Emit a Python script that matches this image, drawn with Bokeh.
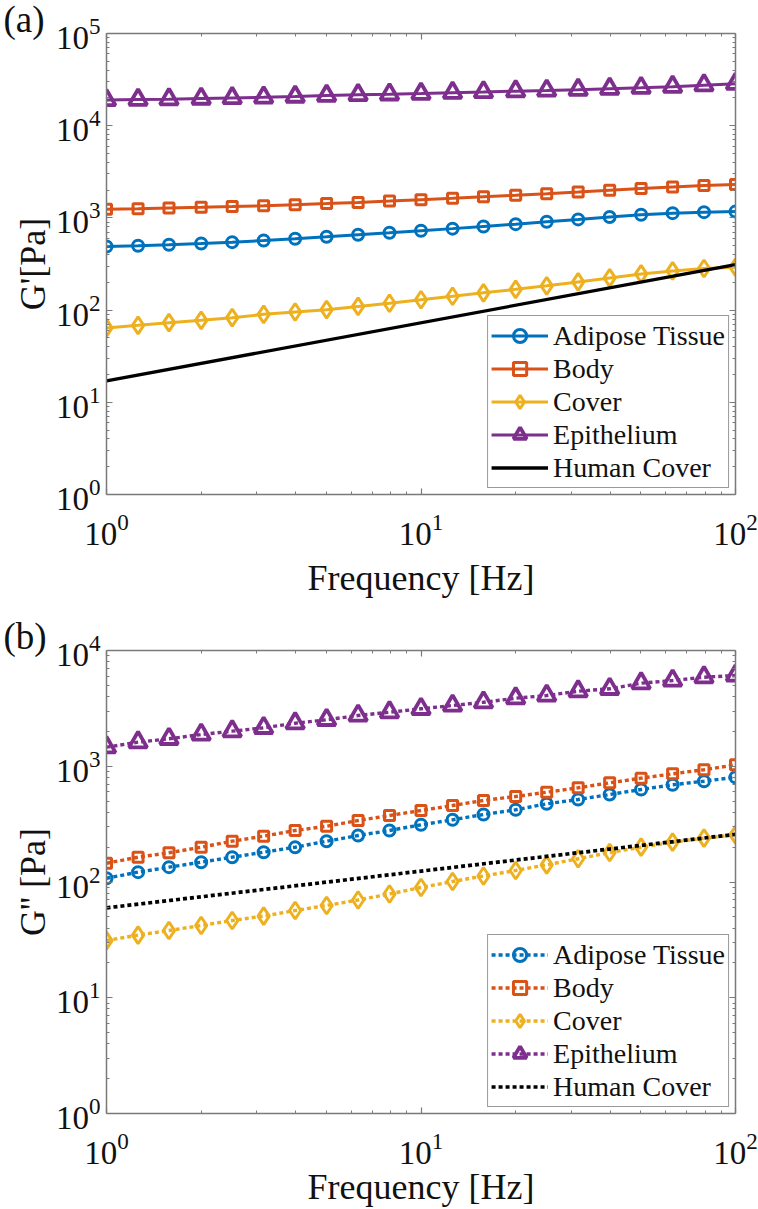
from bokeh.plotting import figure
from bokeh.models import (FixedTicker, LogAxis, Legend, LegendItem, Title,
                          CustomJSTickFormatter)
from bokeh.layouts import column
from bokeh.embed import file_html
from bokeh.resources import INLINE

# ---------------- data ----------------
freq = [1.0, 1.26, 1.58, 2.0, 2.51, 3.16, 3.98, 5.01, 6.31, 7.94, 10.0,
        12.6, 15.8, 20.0, 25.1, 31.6, 39.8, 50.1, 63.1, 79.4, 100.0]

series_names = ["Adipose Tissue", "Body", "Cover", "Epithelium", "Human Cover"]

# storage modulus G' [Pa]
gp_adipose = [490, 499, 512, 527, 546, 569, 595, 624, 656, 689, 726,
              765, 808, 855, 908, 963, 1023, 1080, 1126, 1155, 1170]
gp_body = [1238, 1257, 1279, 1301, 1327, 1357, 1391, 1430, 1473, 1521, 1575,
           1631, 1692, 1756, 1828, 1907, 1994, 2084, 2169, 2246, 2302]
gp_cover = [64.1, 68.4, 73.1, 77.4, 82.8, 89.9, 95.4, 101.0, 109.6, 118.7, 129.5,
            141.2, 154.0, 168.0, 183.2, 202.3, 223.5, 246.7, 265.8, 282.8, 291.3]
gp_epithelium = [19000, 19200, 19400, 19700, 20000, 20300, 20700, 21200, 21600, 21900, 22300,
                 22800, 23200, 23700, 24100, 24600, 25200, 25800, 26500, 27500, 28500]
human_freq = [1.0, 100.0]
gp_human = [17.1, 311.0]

# loss modulus G'' [Pa]
gpp_adipose = [107.8, 121.6, 134.3, 148.3, 163.8, 180.9, 199.8, 225.2, 252.2, 278.6, 312.0,
               344.6, 383.0, 420.6, 473.7, 516.1, 570.0, 629.6, 691.5, 742.8, 804.3]
gpp_body = [145.3, 163.8, 178.8, 199.8, 225.2, 248.7, 278.6, 303.4, 339.9, 375.4, 414.7,
            458.1, 506.0, 548.0, 596.9, 651.4, 719.4, 788.6, 860.6, 931.9, 1029.0]
gpp_cover = [31.2, 34.8, 38.1, 42.1, 46.5, 50.8, 56.7, 62.7, 69.9, 78.8, 89.7,
             101.0, 112.7, 125.7, 140.8, 158.7, 179.8, 199.8, 220.7, 239.0, 255.7]
gpp_epithelium = [1461, 1614, 1727, 1881, 2009, 2149, 2354, 2520, 2745, 2931, 3135,
                  3348, 3574, 3871, 4084, 4450, 4667, 5218, 5506, 5879, 6081]
gpp_human = [59.8, 258.0]

# ---------------- styling ----------------
FONT = "Liberation Serif"
COLORS = ["#0072BD", "#D95319", "#EDB120", "#7E2F8E", "#000000"]
MARKERS = ["circle", "square", "diamond", "triangle"]
MSIZE = [11, 10, 17, 18]
MLW = [3.0, 3.0, 3.0, 3.8]
AXCOL = "#7a7a7a"

x_major = [1, 10, 100]
x_minor = [m * 10 ** k for k in range(2) for m in range(2, 10)]


def style_axis(ax, ticker, labels=True):
    ax.ticker = ticker
    ax.axis_line_color = AXCOL
    ax.axis_line_width = 1.5
    ax.major_tick_line_color = AXCOL
    ax.minor_tick_line_color = AXCOL
    ax.major_tick_line_width = 1.2
    ax.minor_tick_line_width = 1.0
    ax.major_tick_in = 6
    ax.major_tick_out = 0
    ax.minor_tick_in = 3
    ax.minor_tick_out = 0
    if labels:
        ax.major_label_text_font = FONT
        ax.major_label_text_font_size = "33px"
        ax.major_label_text_color = "#111111"
        ax.axis_label_text_font = FONT
        ax.axis_label_text_font_size = "36px"
        ax.axis_label_text_font_style = "normal"
        ax.axis_label_text_color = "#111111"
    else:
        ax.formatter = CustomJSTickFormatter(code="return ''")
        ax.major_label_standoff = 0


def make_panel(tag, ylabel, ys, human, dash, lw, ndec, height, top, bottom,
               x_standoff, xl_standoff):
    p = figure(width=758, height=height, x_axis_type="log", y_axis_type="log",
               x_range=(1, 100), y_range=(1, 10 ** ndec),
               output_backend="svg", toolbar_location=None,
               min_border_left=106, min_border_right=23,
               min_border_top=top, min_border_bottom=bottom)
    p.outline_line_color = None
    p.xgrid.visible = False
    p.ygrid.visible = False
    p.background_fill_color = "white"
    p.border_fill_color = "white"

    y_major = [10 ** k for k in range(ndec + 1)]
    y_minor = [m * 10 ** k for k in range(ndec) for m in range(2, 10)]
    xt = FixedTicker(ticks=x_major, minor_ticks=x_minor)
    yt = FixedTicker(ticks=y_major, minor_ticks=y_minor)

    style_axis(p.xaxis[0], xt)
    style_axis(p.yaxis[0], yt)
    p.xaxis[0].axis_label = "Frequency [Hz]"
    p.yaxis[0].axis_label = ylabel
    p.xaxis[0].major_label_standoff = x_standoff
    p.xaxis[0].axis_label_standoff = xl_standoff
    p.yaxis[0].major_label_standoff = 6
    p.yaxis[0].axis_label_standoff = 0

    top_ax = LogAxis()
    right_ax = LogAxis()
    style_axis(top_ax, FixedTicker(ticks=x_major, minor_ticks=x_minor), labels=False)
    style_axis(right_ax, FixedTicker(ticks=y_major, minor_ticks=y_minor), labels=False)
    p.add_layout(top_ax, "above")
    p.add_layout(right_ax, "right")

    items = []
    for i, vals in enumerate(ys):
        c = COLORS[i]
        lr = p.line(freq, vals, line_color=c, line_width=lw, line_dash=dash)
        sr = p.scatter(freq, vals, marker=MARKERS[i], size=MSIZE[i],
                       line_color=c, line_width=MLW[i], fill_color=None)
        items.append(LegendItem(label=series_names[i], renderers=[lr, sr]))
    hr = p.line(human_freq, human, line_color=COLORS[4], line_width=lw + 0.3,
                line_dash=dash)
    items.append(LegendItem(label=series_names[4], renderers=[hr]))

    leg = Legend(items=items, location="bottom_right")
    leg.label_text_font = FONT
    leg.label_text_font_size = "28px"
    leg.label_text_color = "#111111"
    leg.label_height = 33
    leg.glyph_height = 33
    leg.glyph_width = 57
    leg.label_standoff = 5
    leg.spacing = 0
    leg.padding = 3
    leg.margin = 6
    leg.border_line_color = "#333333"
    leg.border_line_width = 1
    leg.background_fill_color = "white"
    leg.background_fill_alpha = 1
    p.add_layout(leg)

    t = Title(text=tag, align="left", vertical_align="bottom", offset=-103,
              text_font=FONT, text_font_size="37px", text_font_style="normal",
              text_color="#111111")
    try:
        t.standoff = -12
    except Exception:
        t.standoff = 0
    p.add_layout(t, "above")
    return p


p1 = make_panel("(a)", "G'[Pa]",
                [gp_adipose, gp_body, gp_cover, gp_epithelium], gp_human,
                "solid", 3.0, 5, 600, 33, 103, 19, 10)
p2 = make_panel("(b)", "G'' [Pa]",
                [gpp_adipose, gpp_body, gpp_cover, gpp_epithelium], gpp_human,
                "4 3", 3.4, 4, 609, 50, 96, 19, 0)

layout = column(p1, p2, spacing=0)
open("out.html", "w").write(file_html(layout, INLINE))
